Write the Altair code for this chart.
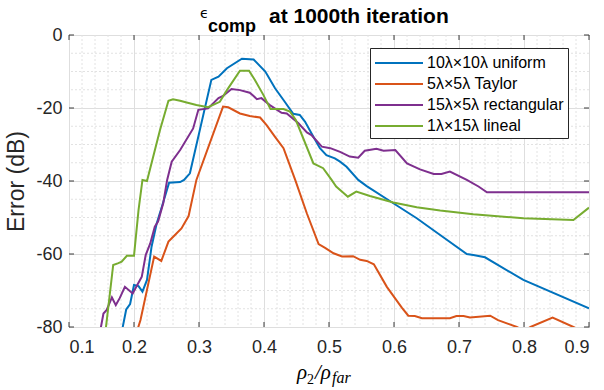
import altair as alt
import pandas as pd

SERIES = ["10λ×10λ uniform", "5λ×5λ Taylor", "15λ×5λ rectangular", "1λ×15λ lineal"]
COLORS = ["#0072BD", "#D95319", "#7E2F8E", "#77AC30"]

blue_x = [0.176, 0.188, 0.194, 0.200, 0.207, 0.213, 0.220, 0.227, 0.235, 0.243, 0.254, 0.271, 0.277,
          0.286, 0.319, 0.330, 0.343, 0.366, 0.384, 0.402, 0.417, 0.430, 0.445, 0.455, 0.463, 0.476,
          0.486, 0.496, 0.509, 0.517, 0.527, 0.545, 0.558, 0.599, 0.635, 0.671, 0.712, 0.722, 0.740,
          0.799, 0.900]
blue_y = [-86.0, -75.2, -73.7, -68.5, -68.8, -70.3, -67.1, -58.0, -51.6, -47.0, -40.5, -40.3, -39.7,
          -37.9, -12.3, -11.4, -9.1, -6.5, -6.7, -10.0, -14.6, -17.8, -21.6, -21.9, -23.7, -27.9,
          -31.0, -32.9, -33.8, -34.7, -36.1, -39.7, -41.4, -46.1, -50.2, -54.8, -60.0, -60.3, -60.9,
          -67.1, -74.9]

orange_x = [0.196, 0.210, 0.231, 0.242, 0.253, 0.263, 0.273, 0.284, 0.296, 0.337, 0.345, 0.363, 0.378,
            0.394, 0.404, 0.417, 0.430, 0.448, 0.466, 0.484, 0.494, 0.507, 0.520, 0.537, 0.548, 0.558,
            0.569, 0.589, 0.612, 0.622, 0.632, 0.643, 0.686, 0.696, 0.707, 0.717, 0.748, 0.760, 0.789,
            0.800, 0.810, 0.844, 0.876, 0.900]
orange_y = [-86.0, -78.1, -60.7, -61.9, -56.6, -54.8, -53.0, -49.6, -39.7, -19.6, -19.8, -21.5, -22.2,
            -22.6, -24.7, -27.9, -31.0, -39.7, -48.9, -57.3, -58.3, -59.8, -60.7, -60.6, -61.6, -61.9,
            -62.8, -69.0, -74.7, -76.9, -77.0, -77.6, -77.6, -77.0, -77.0, -77.4, -76.9, -78.1, -80.0,
            -81.0, -80.0, -77.4, -80.0, -82.0]

purple_x = [0.145, 0.153, 0.158, 0.166, 0.172, 0.178, 0.186, 0.198, 0.205, 0.212, 0.218, 0.225, 0.232,
            0.237, 0.245, 0.251, 0.258, 0.271, 0.291, 0.299, 0.314, 0.330, 0.337, 0.350, 0.363, 0.378,
            0.384, 0.389, 0.396, 0.409, 0.427, 0.435, 0.453, 0.466, 0.473, 0.489, 0.502, 0.517, 0.532,
            0.545, 0.555, 0.573, 0.584, 0.602, 0.620, 0.640, 0.661, 0.673, 0.686, 0.712, 0.730, 0.743,
            0.900]
purple_y = [-84.0, -76.3, -75.3, -71.9, -74.0, -72.1, -69.0, -70.8, -68.5, -66.2, -60.3, -57.1, -52.5,
            -51.1, -46.1, -39.7, -34.7, -31.5, -25.6, -20.5, -20.1, -17.3, -16.7, -14.8, -15.1, -15.8,
            -16.7, -17.6, -17.3, -19.2, -21.3, -21.5, -24.2, -26.7, -27.4, -30.6, -31.0, -32.0, -33.3,
            -33.6, -31.7, -31.2, -31.7, -31.5, -35.2, -36.8, -38.1, -38.1, -37.4, -39.7, -41.5, -43.1,
            -43.1]

green_x = [0.153, 0.168, 0.176, 0.181, 0.189, 0.200, 0.207, 0.213, 0.220, 0.240, 0.253, 0.260, 0.271,
           0.281, 0.296, 0.314, 0.332, 0.343, 0.363, 0.377, 0.386, 0.399, 0.410, 0.430, 0.440, 0.449,
           0.476, 0.491, 0.504, 0.511, 0.529, 0.542, 0.563, 0.599, 0.635, 0.671, 0.722, 0.799, 0.876,
           0.900]
green_y = [-86.0, -63.0, -62.5, -62.1, -60.5, -60.5, -47.9, -39.7, -40.0, -26.0, -18.0, -17.6, -18.0,
           -18.5, -19.2, -19.8, -18.3, -15.1, -9.8, -9.8, -12.3, -16.4, -20.3, -20.3, -21.0, -23.3,
           -35.2, -36.5, -39.7, -41.5, -44.3, -42.9, -44.1, -45.9, -47.2, -48.1, -49.1, -50.2, -50.7,
           -47.3]

X_TICKS = [0.1, 0.2, 0.3, 0.4, 0.5, 0.6, 0.7, 0.8, 0.9]
Y_TICKS = [-80, -60, -40, -20, 0]
X_MINOR = [0.12, 0.14, 0.16, 0.18, 0.22, 0.24, 0.26, 0.28, 0.32, 0.34, 0.36, 0.38,
           0.42, 0.44, 0.46, 0.48, 0.52, 0.54, 0.56, 0.58, 0.62, 0.64, 0.66, 0.68,
           0.72, 0.74, 0.76, 0.78, 0.82, 0.84, 0.86, 0.88]
Y_MINOR = [-75, -70, -65, -55, -50, -45, -35, -30, -25, -15, -10, -5]

TITLE_EPS = "ϵ"
TITLE_SUB = "comp"
TITLE_MAIN = "at 1000th iteration"
XTITLE_RHO = "ρ"
XTITLE_TWO = "2"
XTITLE_SLASH = "/ρ"
XTITLE_SUB = "far"
YTITLE = "Error (dB)"

W, H = 520, 292
FONT = "Liberation Sans"
SERIF = "Liberation Serif"
FRAME = "#3a3a3a"

rows = []
for name, xs, ys in zip(SERIES, [blue_x, orange_x, purple_x, green_x], [blue_y, orange_y, purple_y, green_y]):
    for a, b in zip(xs, ys):
        rows.append({"series": name, "x": a, "y": b})
df = pd.DataFrame(rows)

xscale = alt.Scale(domain=[0.1, 0.9], nice=False, zero=False)
yscale = alt.Scale(domain=[-80, 0], nice=False, zero=False)

xaxis = alt.Axis(values=X_TICKS, format=".1f", title=None, grid=True, gridColor="#dedede",
                 gridWidth=1, ticks=False, tickSize=0, domain=False, labelFont=FONT,
                 labelFontSize=18, labelColor="#262626", labelPadding=11)
yaxis = alt.Axis(values=Y_TICKS, title=YTITLE, grid=True, gridColor="#dedede", gridWidth=1,
                 ticks=False, tickSize=0, domain=False, labelFont=FONT, labelFontSize=18,
                 labelColor="#262626", labelPadding=7,
                 labelExpr="datum.value == 0 ? '0' : '-' + abs(datum.value)",
                 titleFont=FONT, titleFontSize=23, titleFontWeight="normal",
                 titleColor="#262626", titlePadding=7)

minor_x = alt.Chart(pd.DataFrame({"v": X_MINOR})).mark_rule(
    color="#e2e2e2", strokeWidth=1, strokeDash=[2, 2]
).encode(x=alt.X("v:Q", scale=xscale, axis=xaxis))

minor_y = alt.Chart(pd.DataFrame({"v": Y_MINOR})).mark_rule(
    color="#e2e2e2", strokeWidth=1, strokeDash=[2, 2]
).encode(y=alt.Y("v:Q", scale=yscale, axis=yaxis))

lines = alt.Chart(df).mark_line(strokeWidth=2, clip=True).encode(
    x=alt.X("x:Q", scale=xscale, axis=xaxis),
    y=alt.Y("y:Q", scale=yscale, axis=yaxis),
    color=alt.Color("series:N", scale=alt.Scale(domain=SERIES, range=COLORS),
                    legend=alt.Legend(title=None, orient="none", legendX=301, legendY=13,
                                      fillColor="white", strokeColor="#262626", padding=4,
                                      rowPadding=2, symbolType="M-2.4,0H2.4", symbolSize=400,
                                      symbolStrokeWidth=2, symbolFillColor="transparent",
                                      symbolOffset=14, labelFontSize=16, labelFont=FONT,
                                      labelColor="#000000", labelOffset=17, labelLimit=400,
                                      cornerRadius=0)),
    order=alt.Order("x:Q"),
)

xt = pd.DataFrame({"v": X_TICKS})
yt = pd.DataFrame({"v": Y_TICKS})
tick_bottom = alt.Chart(xt).mark_rule(color=FRAME, strokeWidth=1).encode(
    x=alt.X("v:Q", scale=xscale, axis=xaxis), y=alt.value(H), y2=alt.value(H - 5))
tick_top = alt.Chart(xt).mark_rule(color=FRAME, strokeWidth=1).encode(
    x=alt.X("v:Q", scale=xscale, axis=xaxis), y=alt.value(0), y2=alt.value(5))
tick_left = alt.Chart(yt).mark_rule(color=FRAME, strokeWidth=1).encode(
    y=alt.Y("v:Q", scale=yscale, axis=yaxis), x=alt.value(0), x2=alt.value(5))
tick_right = alt.Chart(yt).mark_rule(color=FRAME, strokeWidth=1).encode(
    y=alt.Y("v:Q", scale=yscale, axis=yaxis), x=alt.value(W), x2=alt.value(W - 5))


def label(text, x, y, font, size, weight="normal", style="normal"):
    return alt.Chart(alt.Data(values=[{"t": text}])).mark_text(
        align="left", baseline="alphabetic", font=font, fontSize=size,
        fontWeight=weight, fontStyle=style, color="#000000"
    ).encode(x=alt.value(x), y=alt.value(y), text="t:N")


t_eps = label(TITLE_EPS, 131, -17, "DejaVu Sans", 14)
t_sub = label(TITLE_SUB, 139, -3, FONT, 18, "bold")
t_main = label(TITLE_MAIN, 200, -12, FONT, 21, "bold")
x_rho = label(XTITLE_RHO, 228, 344, SERIF, 21, "normal", "italic")
x_two = label(XTITLE_TWO, 238, 349, SERIF, 14)
x_slash = label(XTITLE_SLASH, 246, 344, SERIF, 21, "normal", "italic")
x_sub = label(XTITLE_SUB, 263, 348, SERIF, 16, "normal", "italic")

chart = alt.layer(
    minor_x, minor_y, lines, tick_bottom, tick_top, tick_left, tick_right,
    t_eps, t_sub, t_main, x_rho, x_two, x_slash, x_sub
).properties(
    width=W, height=H,
    autosize=alt.AutoSizeParams(type="none"),
    padding={"left": 69, "top": 35, "right": 15, "bottom": 63},
    background="white",
).configure_view(
    stroke=FRAME, strokeWidth=1
)

chart.save("out.html", embed_options={"renderer": "svg", "actions": False})
